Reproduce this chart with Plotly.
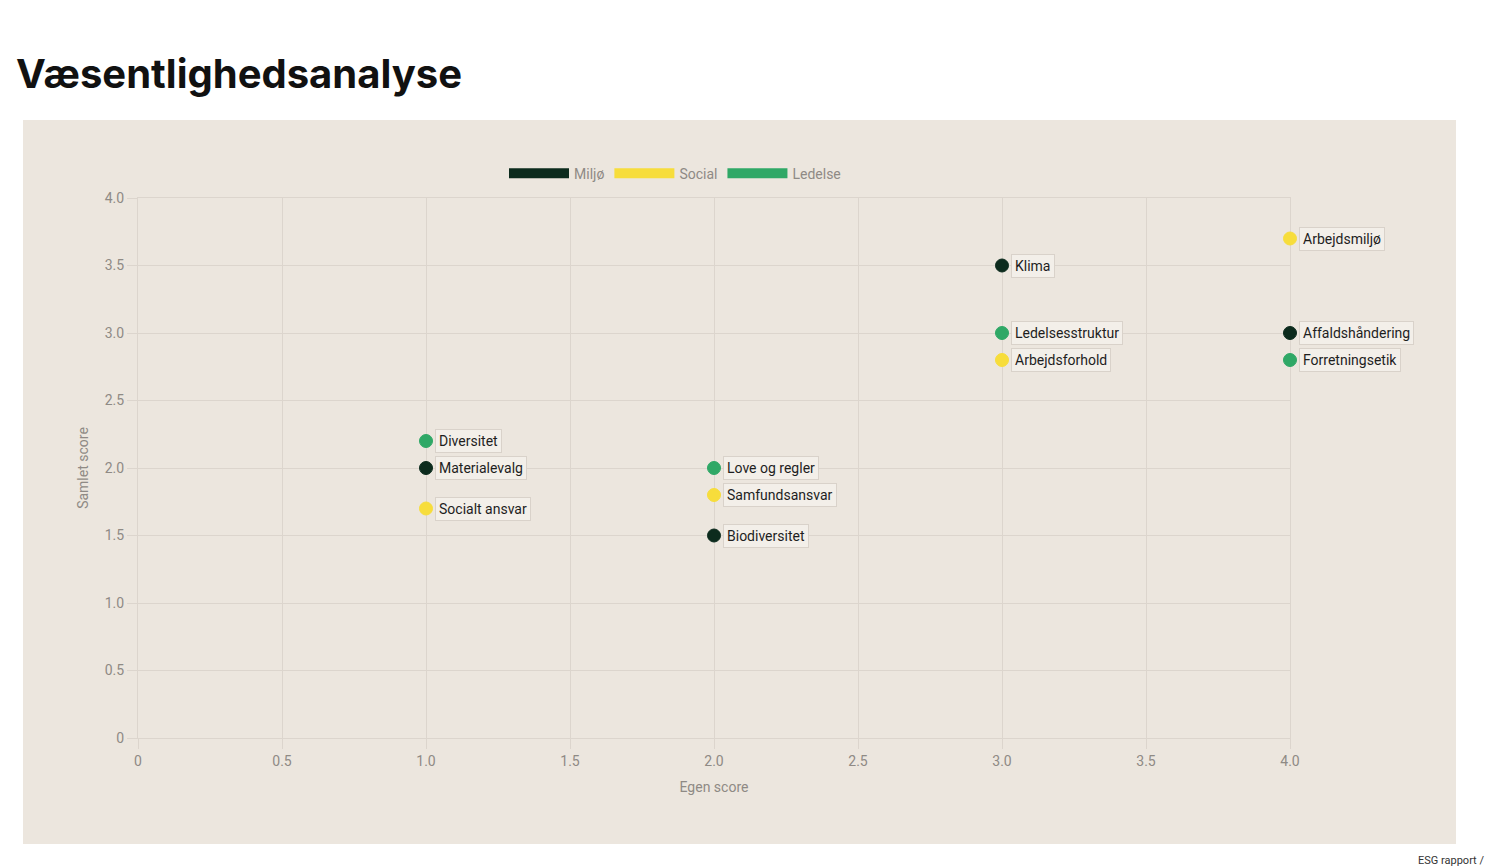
import plotly.graph_objects as go

# ---- data ----
emner = ["Diversitet", "Materialevalg", "Socialt ansvar",
         "Love og regler", "Samfundsansvar", "Biodiversitet",
         "Klima", "Ledelsesstruktur", "Arbejdsforhold",
         "Arbejdsmiljø", "Affaldshåndering", "Forretningsetik"]
egen_score = [1.0, 1.0, 1.0, 2.0, 2.0, 2.0, 3.0, 3.0, 3.0, 4.0, 4.0, 4.0]
samlet_score = [2.2, 2.0, 1.7, 2.0, 1.8, 1.5, 3.5, 3.0, 2.8, 3.7, 3.0, 2.8]
omraade = ["Ledelse", "Miljø", "Social", "Ledelse", "Social", "Miljø",
           "Miljø", "Ledelse", "Social", "Social", "Miljø", "Ledelse"]
grupper = ["Miljø", "Social", "Ledelse"]
tick_vals = [0, 0.5, 1.0, 1.5, 2.0, 2.5, 3.0, 3.5, 4.0]
tick_text = ["0", "0.5", "1.0", "1.5", "2.0", "2.5", "3.0", "3.5", "4.0"]

farver = {"Miljø": "#0c2b1d", "Social": "#f7dd3b", "Ledelse": "#2fa866"}

# ---- layout geometry (pixels) ----
W, H = 1501, 866
L, R = 130, 1282
T, B = 190, 730
pw, ph = R - L, B - T

def px(xp):
    return (xp - L) / pw

def py(yp):
    return (B - yp) / ph

fig = go.Figure()

for g in grupper:
    xs = [x for x, o in zip(egen_score, omraade) if o == g]
    ys = [y for y, o in zip(samlet_score, omraade) if o == g]
    fig.add_trace(go.Scatter(
        x=xs, y=ys, mode="markers", name=g, showlegend=False,
        cliponaxis=False,
        marker=dict(size=13, color=farver[g], line=dict(width=1, color=farver[g])),
        hoverinfo="skip"))

# legend entries as wide boxes
for g in grupper:
    fig.add_trace(go.Scatter(
        x=[None], y=[None], mode="lines", name=g,
        line=dict(color=farver[g], width=16)))

annotations = []
for n, x, y in zip(emner, egen_score, samlet_score):
    annotations.append(dict(
        x=x, y=y, xref="x", yref="y", text=n, showarrow=False,
        xanchor="left", yanchor="middle", xshift=9,
        font=dict(family="Roboto, Arial, sans-serif", size=14, color="#1e1e1e"),
        bgcolor="#f3efe9", bordercolor="#d9d2ca", borderwidth=1, borderpad=3))

annotations.append(dict(
    xref="paper", yref="paper", x=px(1478), y=py(852), text="ESG rapport /",
    showarrow=False, xanchor="right", yanchor="middle",
    font=dict(family="Roboto, Arial, sans-serif", size=11, color="#333333")))

grid = "#dcd5cd"
axis_common = dict(
    range=[0, 4], tickvals=tick_vals, ticktext=tick_text,
    showgrid=True, gridcolor=grid, gridwidth=1, zeroline=False,
    showline=True, mirror=True, linecolor=grid, linewidth=1,
    ticks="outside", ticklen=10, tickcolor=grid, layer="below traces",
    tickfont=dict(family="Roboto, Arial, sans-serif", size=14, color="#8f8a85"),
    fixedrange=True)

fig.update_layout(
    width=W, height=H,
    margin=dict(l=L, r=W - R, t=T, b=H - B),
    paper_bgcolor="#ffffff", plot_bgcolor="rgba(0,0,0,0)",
    title=dict(text="<b>Væsentlighedsanalyse</b>", x=8 / W, xanchor="left",
               y=1 - 66 / H, yanchor="middle",
               font=dict(family="Inter, Lato, sans-serif", size=40, color="#111111")),
    xaxis=dict(axis_common, title=dict(text="Egen score", standoff=14,
               font=dict(family="Roboto, Arial, sans-serif", size=14, color="#8f8a85"))),
    yaxis=dict(axis_common, title=dict(text="Samlet score", standoff=12,
               font=dict(family="Roboto, Arial, sans-serif", size=14, color="#8f8a85"))),
    legend=dict(orientation="h", x=px(667), xanchor="center", y=1.045, yanchor="middle",
                bgcolor="rgba(0,0,0,0)", itemwidth=60,
                font=dict(family="Roboto, Arial, sans-serif", size=14, color="#8f8a85")),
    shapes=[dict(type="rect", xref="paper", yref="paper",
                 x0=px(15), x1=px(1448), y0=py(836), y1=py(112),
                 fillcolor="#ece6de", line=dict(width=0), layer="below")],
    annotations=annotations,
    showlegend=True,
)

fig.write_html("out.html")
